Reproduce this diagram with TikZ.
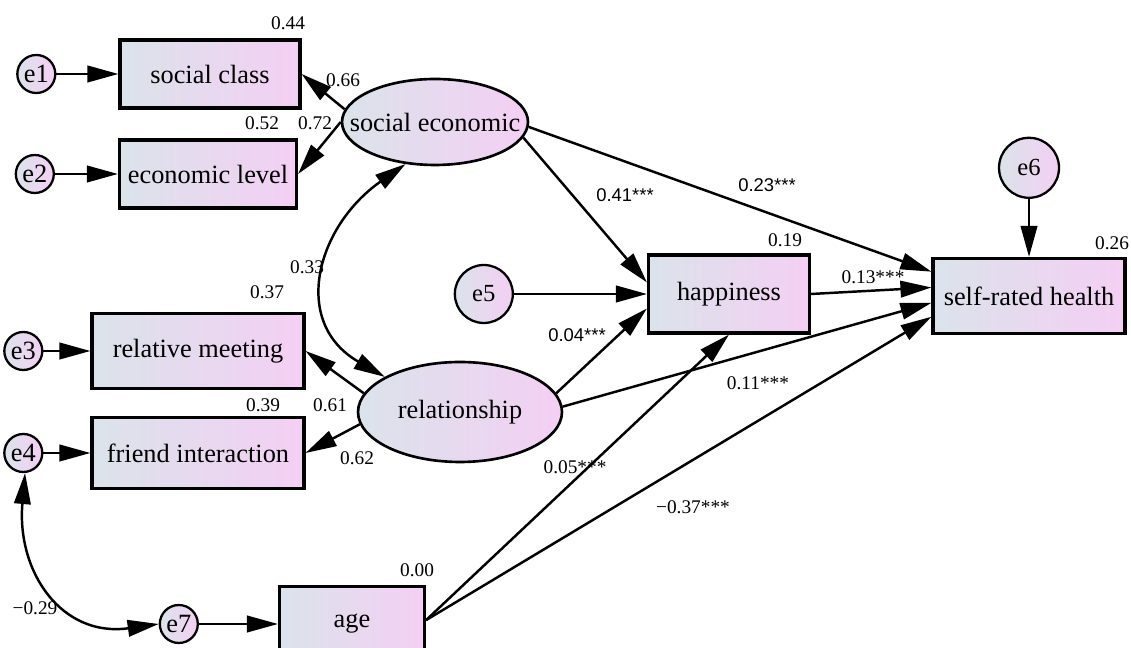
\documentclass[tikz,border=0pt]{standalone}
\usepackage{fontspec}
\setmainfont{Liberation Serif}
\setsansfont{Liberation Sans}
\usepackage{tikz}
\usetikzlibrary{arrows.meta,positioning,shapes.geometric}

\definecolor{shadeleft}{RGB}{219,227,234}
\definecolor{shaderight}{RGB}{244,207,244}

\begin{document}
\begin{tikzpicture}[x=0.02cm,y=0.02cm,align=center,
>={Triangle[length=0.62cm,width=0.33cm]},
latent/.style={ellipse,draw,line width=1.5pt,left color=shadeleft,right color=shaderight,inner xsep=-12pt,inner ysep=0pt,font=\fontsize{15}{18}\selectfont},
manifest/.style={rectangle,draw,line width=1.8pt,left color=shadeleft,right color=shaderight,inner sep=0pt,font=\fontsize{15}{18}\selectfont},
error/.style={circle,draw,line width=1.3pt,left color=shadeleft,right color=shaderight,inner sep=0pt,minimum size=0.76cm,font=\fontsize{15}{17}\selectfont},
paths/.style={->, line width=1.4pt},
covariance/.style={<->, line width=1.4pt, looseness=1.3},
coef/.style={inner sep=0pt, font=\fontsize{11}{13}\selectfont},
coefsans/.style={inner sep=0pt, font=\sffamily\fontsize{10.5}{12}\selectfont}
]
\useasboundingbox (0,0) rectangle (1131,648);

%% Nodes   %%%%%%%%%%%%%%%%%%%%%%%%%%%%%%%%%%%%%%%%%%%%%%%%%%%%%%%%%%%%%%%%%%%%%%%

%% Latent variables
\node [latent, minimum width=3.72cm, minimum height=1.72cm] (SE)  at (435,526) {social economic};
\node [latent, minimum width=4.08cm, minimum height=2.0cm]  (REL) at (460,236) {relationship};

%% Manifest items
\node [manifest, minimum width=3.6cm,  minimum height=1.36cm] (SC)  at (210,574)  {social class};
\node [manifest, minimum width=3.54cm, minimum height=1.36cm] (EL)  at (208,474)  {economic level};
\node [manifest, minimum width=4.24cm, minimum height=1.5cm]  (RM)  at (198,297)  {relative meeting};
\node [manifest, minimum width=4.24cm, minimum height=1.42cm] (FI)  at (198,195)  {friend interaction};
\node [manifest, minimum width=3.22cm, minimum height=1.56cm] (HAP) at (729,354)  {happiness};
\node [manifest, minimum width=3.84cm, minimum height=1.5cm]  (SRH) at (1029,352) {self-rated health};
\node [manifest, minimum width=2.9cm,  minimum height=1.5cm]  (AGE) at (352,24)   {age};

%% Errors
\node [error] (e1) [left  =1.24cm of SC]  {e1};
\node [error] (e2) [left  =1.26cm of EL]  {e2};
\node [error] (e3) [left  =0.94cm of RM]  {e3};
\node [error] (e4) [left  =0.94cm of FI]  {e4};
\node [error] (e7) [left  =1.58cm of AGE] {e7};
\node [error, minimum size=1.16cm, font=\fontsize{14}{16}\selectfont] (e5) [left  =2.66cm of HAP] {e5};
\node [error, minimum size=1.2cm,  font=\fontsize{14}{16}\selectfont] (e6) [above =1.16cm of SRH] {e6};

%% Paths %%%%%%%%%%%%%%%%%%%%%%%%%%%%%%%%%%%%%%%%%%%%%%%%%%%%%%%%%%%%%%%%%%%%%%%%%%%

%% Errors to items
\foreach \e/\x in {e1/SC, e2/EL, e3/RM, e4/FI, e5/HAP, e6/SRH, e7/AGE}
\draw [paths] (\e) to (\x);

%% Measurement models
\draw [paths] (SE.172)  to (SC.east);
\draw [paths] (SE.180)  to (EL.east);
\draw [paths] (REL.169) to (RM.east);
\draw [paths] (REL.187) to (FI.east);

%% Structural paths
\draw [paths] (SE.-10)   to (HAP.172);
\draw [paths] (SE.-3)    to (SRH.166);
\draw [paths] (REL.11)   to (HAP.190);
\draw [paths] (REL.3)    to (SRH.184);
\draw [paths] (HAP.east) to (SRH.175);
\draw [paths] (AGE.3)    to (HAP.south);
\draw [paths] (AGE.3)    to (SRH.192);

%% Covariances
\draw [covariance] (SE.235) to [out=215,in=150] (REL.155);
\draw [covariance, looseness=1.25] (e4.275) to [out=265,in=188] (e7.west);

%% Coefficients %%%%%%%%%%%%%%%%%%%%%%%%%%%%%%%%%%%%%%%%%%%%%%%%%%%%%%%%%%%%%%%%%%%%
\node [coef] (rSC)  at (288,625)  {0.44};
\node [coef] (rEL)  at (262,525)  {0.52};
\node [coef] (rRM)  at (267,356)  {0.37};
\node [coef] (rFI)  at (263,243)  {0.39};
\node [coef] (rHAP) at (785,408)  {0.19};
\node [coef] (rSRH) at (1112,405) {0.26};
\node [coef] (rAGE) at (417,78)   {0.00};

\node [coef] (lSC)  at (343,568)  {0.66};
\node [coef] (lEL)  at (315,525)  {0.72};
\node [coef] (lRM)  at (330,243)  {0.61};
\node [coef] (lFI)  at (357,190)  {0.62};
\node [coef] (cSR)  at (307,381)  {0.33};
\node [coef] (cEE)  at (35,40)    {−0.29};

\node [coefsans] (bSH) at (625,453) {0.41***};
\node [coefsans] (bSS) at (767,463) {0.23***};
\node [coefsans] (bRH) at (577,313) {0.04***};
\node [coef] (bHS) at (873,371) {0.13***};
\node [coef] (bRS) at (758,265) {0.11***};
\node [coef] (bAH) at (575,181) {0.05***};
\node [coef] (bAS) at (693,141) {−0.37***};

\end{tikzpicture}
\end{document}
